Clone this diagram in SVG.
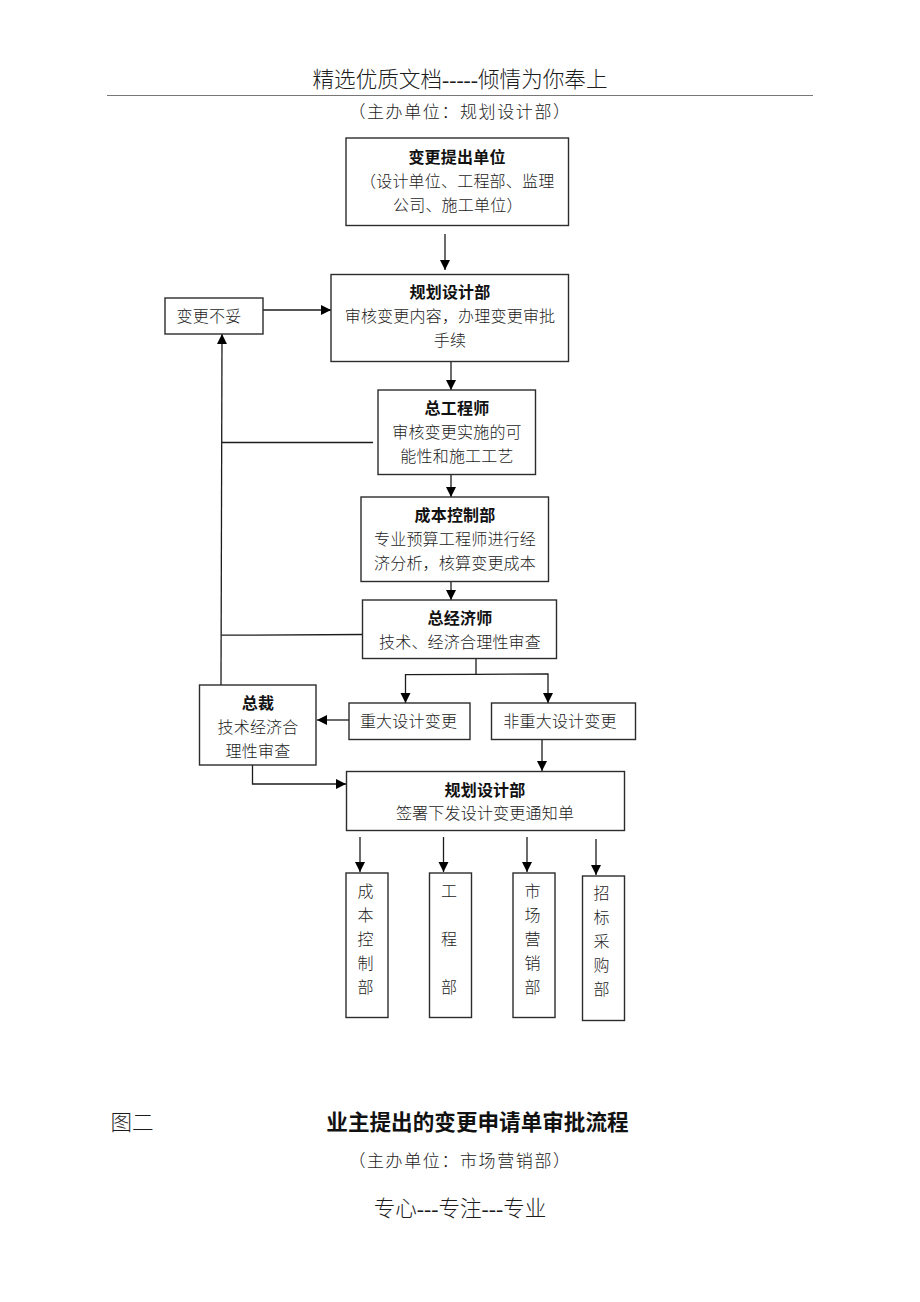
<svg xmlns="http://www.w3.org/2000/svg" width="920" height="1302" viewBox="0 0 920 1302">
<style>
text{font-family:"Liberation Serif","Noto Sans CJK SC",serif;font-size:16px;fill:#1c1c1c;text-anchor:middle;font-weight:300;letter-spacing:.2px}
.b{font-weight:700;fill:#111}
.s{text-anchor:start}
.box{fill:#fff;stroke:#2c2c2c;stroke-width:1.4}
.c{fill:none;stroke:#1c1c1c;stroke-width:1.3}
.a{marker-end:url(#ah)}
.big{font-size:21.6px;letter-spacing:0}
.sub{font-size:17px;letter-spacing:1.6px}
</style>
<defs><marker id="ah" markerUnits="userSpaceOnUse" markerWidth="12" markerHeight="12" refX="10" refY="5" orient="auto"><path d="M0 0L10 5L0 10Z" fill="#000"/></marker></defs>
<rect width="920" height="1302" fill="#fff"/>
<g id="page-text">
<text class="big" x="460" y="87">精选优质文档-----倾情为你奉上</text>
<line x1="107" y1="95.5" x2="813" y2="95.5" stroke="#777" stroke-width="1"/>
<text class="sub" x="460" y="118">（主办单位：规划设计部）</text>
<text class="big" x="132" y="1130">图二</text>
<text class="big b" x="477.500" y="1130">业主提出的变更申请单审批流程</text>
<text class="sub" x="460" y="1167">（主办单位：市场营销部）</text>
<text class="big" x="460" y="1216">专心---专注---专业</text>
</g>
<g id="connectors">
<path class="c a" d="M445 234V270"/>
<path class="c a" d="M263 310H331"/>
<path class="c a" d="M451 362V390"/>
<path class="c a" d="M451 468V497"/>
<path class="c a" d="M451 582V600"/>
<path class="c a" d="M221 685L222 334"/>
<path class="c" d="M222 442.500H373"/>
<path class="c" d="M221.500 635.200L362 634.500"/>
<path class="c" d="M476 658V674"/>
<path class="c a" d="M476 674.300L405.500 674.700V703"/>
<path class="c a" d="M476 674.300L548 673.800V703"/>
<path class="c a" d="M349 720H317"/>
<path class="c a" d="M542 740V771"/>
<path class="c a" d="M252.500 765V784H346"/>
<path class="c a" d="M360 837V872"/>
<path class="c a" d="M443.500 837V872"/>
<path class="c a" d="M527 837V872"/>
<path class="c a" d="M596 839V875"/>
</g>
<g id="n1"><rect class="box" x="346" y="138" width="222.500" height="87.500"/><text class="b" x="457" y="163">变更提出单位</text><text class="s" x="360" y="187">（设计单位、工程部、监理</text><text class="s" x="393" y="211">公司、施工单位）</text></g>
<g id="n2"><rect class="box" x="331" y="274.500" width="237.500" height="87"/><text class="b" x="450" y="298">规划设计部</text><text x="450" y="322">审核变更内容，办理变更审批</text><text x="450" y="346">手续</text></g>
<g id="n3"><rect class="box" x="165" y="298" width="98" height="36"/><text x="209" y="322">变更不妥</text></g>
<g id="n4"><rect class="box" x="378" y="390" width="157.500" height="84.500"/><text class="b" x="457" y="414">总工程师</text><text x="457" y="438">审核变更实施的可</text><text x="457" y="462">能性和施工工艺</text></g>
<g id="n5"><rect class="box" x="361" y="497" width="187.500" height="84.500"/><text class="b" x="455" y="521">成本控制部</text><text x="455" y="545">专业预算工程师进行经</text><text x="455" y="569">济分析，核算变更成本</text></g>
<g id="n6"><rect class="box" x="362.500" y="600" width="194" height="58.500"/><text class="b" x="460" y="624">总经济师</text><text x="460" y="648">技术、经济合理性审查</text></g>
<g id="n7"><rect class="box" x="199.500" y="685" width="116.500" height="80"/><text class="b" x="258" y="709">总裁</text><text x="258" y="733">技术经济合</text><text x="258" y="757">理性审查</text></g>
<g id="n8"><rect class="box" x="349" y="703" width="121" height="36.500"/><text x="408.500" y="727">重大设计变更</text></g>
<g id="n9"><rect class="box" x="491.500" y="703" width="144" height="36.500"/><text x="560" y="727">非重大设计变更</text></g>
<g id="n10"><rect class="box" x="346.500" y="771.500" width="278" height="59"/><text class="b" x="485" y="796">规划设计部</text><text x="485" y="819">签署下发设计变更通知单</text></g>
<g id="n11"><rect class="box" x="346" y="873" width="42" height="144.500"/><text x="365.500" y="897">成</text><text x="365.500" y="921">本</text><text x="365.500" y="945">控</text><text x="365.500" y="969">制</text><text x="365.500" y="993">部</text></g>
<g id="n12"><rect class="box" x="429.500" y="873" width="42" height="144.500"/><text x="449" y="897">工</text><text x="449" y="945">程</text><text x="449" y="993">部</text></g>
<g id="n13"><rect class="box" x="513" y="873" width="42" height="144.500"/><text x="532.500" y="897">市</text><text x="532.500" y="921">场</text><text x="532.500" y="945">营</text><text x="532.500" y="969">销</text><text x="532.500" y="993">部</text></g>
<g id="n14"><rect class="box" x="582.500" y="876" width="42" height="144.500"/><text x="601.500" y="899">招</text><text x="601.500" y="923">标</text><text x="601.500" y="947">采</text><text x="601.500" y="971">购</text><text x="601.500" y="995">部</text></g>
</svg>
